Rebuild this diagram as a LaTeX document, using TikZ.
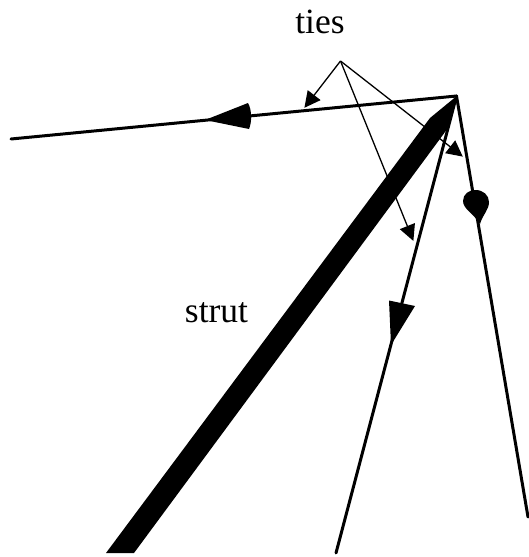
\documentclass[tikz,border=0pt]{standalone}
\usepackage{fontspec}
\setmainfont{Liberation Serif}
\usetikzlibrary{arrows.meta}
\tikzset{
	tie/.style={line width=3pt, line cap=round},
	pointer/.style={line width=1.3pt, -{Triangle[length=16pt, width=16pt]}, shorten >=-1pt},
	label/.style={inner sep=0pt, anchor=base, font=\fontsize{35.5}{35.5}\selectfont}
}
\begin{document}
\begin{tikzpicture}[x=1pt, y=-1pt]
		\useasboundingbox (0,0) rectangle (528,557);
		\coordinate (apex) at (456.5,96);
		\coordinate (tiesroot) at (340.5,61);
		\coordinate (leftend) at (11,139);
		\coordinate (midend) at (336,553);
		\coordinate (rightend) at (528,517);
		\coordinate (tipleft) at (305,107);
		\coordinate (tipright) at (462,156);
		\coordinate (tipmid) at (413,240);
		\draw[pointer] (tiesroot) -- (tipleft);
		\draw[pointer] (tiesroot) -- (tipright);
		\draw[pointer] (tiesroot) -- (tipmid);
		\draw[tie] (apex) -- (leftend);
		\draw[tie] (apex) -- (midend);
		\draw[tie] (apex) -- (rightend);
		\fill (106,553) -- (134,553) -- (448,128) -- (458,95) -- (430,118) -- cycle;
		\fill (205,120) -- (248,103) .. controls (252,110) and (252,122) .. (249,129) -- cycle;
		\fill (389,300.5) -- (415,306) -- (391,345) -- cycle;
		\fill (480,224) .. controls (474,214) and (463,209) .. (463,201) .. controls (463,194) and (469,190) .. (475.5,190) .. controls (483,190) and (489,195) .. (489,202) .. controls (489,210) and (483,214) .. (480,224);
		\node[label] (ties) at (320,33) {ties};
		\node[label] (strut) at (216.5,322) {strut};
	\end{tikzpicture}
\end{document}
